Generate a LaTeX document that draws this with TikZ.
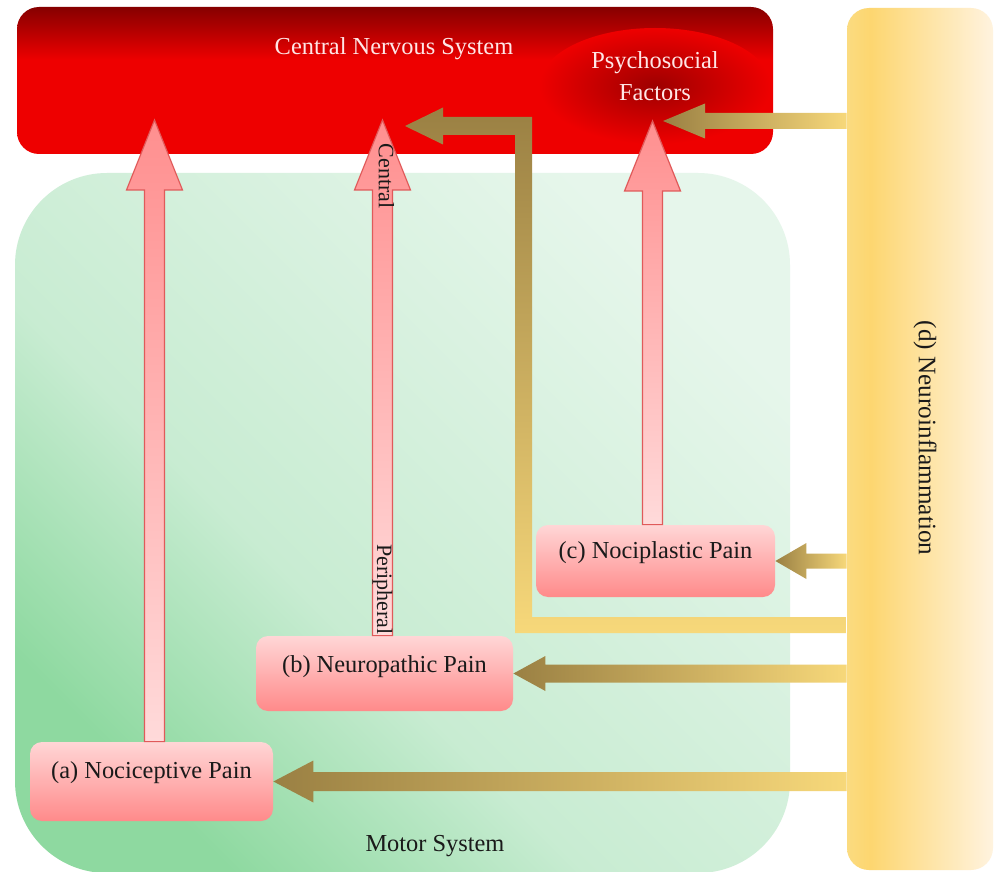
\documentclass[tikz,border=0pt]{standalone}
\usepackage{fontspec}
\setmainfont{Liberation Serif}
\usetikzlibrary{calc,shapes.geometric}
\definecolor{cnsred}{HTML}{EE0000}
\definecolor{cnsdark}{HTML}{860000}
\definecolor{psydark}{HTML}{9E0000}
\definecolor{g1}{HTML}{8ED9A0}
\definecolor{g2}{HTML}{C8ECD2}
\definecolor{g3}{HTML}{E6F6EB}
\definecolor{ylw0}{HTML}{FBDB80}
\definecolor{ylw1}{HTML}{FDD670}
\definecolor{ylw2}{HTML}{FFF3DF}
\definecolor{pinktop}{HTML}{FFD6D6}
\definecolor{pinkbot}{HTML}{FF8A8A}
\definecolor{apinktop}{HTML}{FF8F8F}
\definecolor{apinkbot}{HTML}{FFDADA}
\definecolor{aedge}{HTML}{E05A5A}
\definecolor{gold}{HTML}{F7D87A}
\definecolor{olive}{HTML}{9A8043}
\definecolor{cnstext}{HTML}{FFE6E6}
\definecolor{inktext}{HTML}{1A1A1A}
\pgfdeclareverticalshading{cnsshade}{100bp}{color(0bp)=(cnsred); color(57bp)=(cnsred); color(75bp)=(cnsdark); color(100bp)=(cnsdark)}
\pgfdeclareverticalshading{greenshade}{100bp}{color(0bp)=(g1); color(25bp)=(g1); color(42bp)=(g2); color(75bp)=(g3); color(100bp)=(g3)}
\pgfdeclarehorizontalshading{ylwshade}{100bp}{color(0bp)=(ylw0); color(25bp)=(ylw0); color(33bp)=(ylw1); color(75bp)=(ylw2); color(100bp)=(ylw2)}
\tikzset{
  bigfont/.style={font=\fontsize{12.2}{16}\selectfont},
  painbox/.style={rectangle, rounded corners=6pt, inner sep=0pt, top color=pinktop, bottom color=pinkbot, draw=none},
  painlabel/.style={bigfont, text=inktext, inner sep=0pt},
  pinkarrow/.style={top color=apinktop, bottom color=apinkbot, draw=aedge, line width=0.6pt, line join=miter},
  goldarrow/.style={left color=olive, right color=gold},
  lgold/.style={top color=olive, bottom color=gold},
  sidetext/.style={font=\fontsize{11}{13}\selectfont, text=inktext, rotate=-90, inner sep=0pt}
}
\newcommand\pinkup[2]{%
  \path[pinkarrow] ($(#1)+(-10,0)$) -- ($(#2)+(-10,70)$) -- ($(#2)+(-28,70)$) -- (#2) -- ($(#2)+(28,70)$) -- ($(#2)+(10,70)$) -- ($(#1)+(10,0)$) -- cycle;}
\newcommand\goldleft[5]{%
  \path[goldarrow] ($(#1)+(0,-#3)$) -- ($(#2)+(#5,-#3)$) -- ($(#2)+(#5,-#4)$) -- (#2) -- ($(#2)+(#5,#4)$) -- ($(#2)+(#5,#3)$) -- ($(#1)+(0,#3)$) -- cycle;}
\begin{document}
\begin{tikzpicture}[x=0.5pt,y=-0.5pt]
\useasboundingbox (0,0) rectangle (997,872);
\fill[white] (0,0) rectangle (997,872);
% green motor system region
\node[rectangle, rounded corners=46pt, inner sep=0pt, minimum width=387.5pt, minimum height=350pt, shading=greenshade, shading angle=-45, draw=none] (motor) at (402.5,523) {};
\node[text=inktext, bigfont] (motortxt) at (435,846) {Motor System};
% CNS box
\node[rectangle, rounded corners=11pt, inner sep=0pt, minimum width=378pt, minimum height=73.5pt, shading=cnsshade, draw=none] (cns) at (395,80.5) {};
\node[ellipse, inner sep=0pt, minimum width=116pt, minimum height=58pt, inner color=psydark, outer color=cnsred, draw=none] (psy) at (655,86) {};
\node[bigfont, text=cnstext] (cnstxt) at (394,49) {Central Nervous System};
\node[bigfont, text=cnstext, align=center] (psytxt) at (655,76) {Psychosocial\\Factors};
% neuroinflammation box
\node[rectangle, rounded corners=11pt, inner sep=0pt, minimum width=73pt, minimum height=431pt, shading=ylwshade, draw=none] (dbox) at (920,439) {};
\node[font=\fontsize{12.6}{15}\selectfont, text=inktext, rotate=-90] (dtxt) at (925,438) {(d) Neuroinflammation};
% pain boxes
\node[painbox, minimum width=121.5pt, minimum height=39.5pt] (pa) at (151.5,781.5) {};
\node[painbox, minimum width=128.5pt, minimum height=37.5pt] (pb) at (384.5,673.5) {};
\node[painbox, minimum width=119.5pt, minimum height=36pt] (pc) at (655.5,561) {};
\node[painlabel] (la) at ($(pa.center)+(0,-9)$) {(a) Nociceptive Pain};
\node[painlabel] (lb) at ($(pb.center)+(0,-7)$) {(b) Neuropathic Pain};
\node[painlabel] (lc) at ($(pc.center)+(0,-8)$) {(c) Nociplastic Pain};
% pink ascending arrows
\coordinate (ba) at ($(pa.north)+(3,0)$);
\coordinate (bb) at ($(pb.north)+(-2,0)$);
\coordinate (bc) at ($(pc.north)+(-3,0)$);
\coordinate (ta) at (ba |- 0,120);
\coordinate (tb) at (bb |- 0,120);
\coordinate (tc) at (bc |- 0,121);
\pinkup{ba}{ta}
\pinkup{bb}{tb}
\pinkup{bc}{tc}
\node[sidetext] (central) at ($(tb)+(4,56)$) {Central};
\node[sidetext] (periph) at ($(bb)+(0,-46)$) {Peripheral};
% gold arrows from neuroinflammation
\coordinate (tpsy) at (663,121);
\goldleft{dbox.west |- tpsy}{tpsy}{8}{17.5}{42}
\goldleft{dbox.west |- pc.east}{pc.east}{7.5}{18}{31}
\goldleft{dbox.west |- pb.east}{pb.east}{9}{17.5}{32}
\goldleft{dbox.west |- pa.east}{pa.east}{9.5}{21}{40}
% L-shaped arrow to CNS
\coordinate (tcns) at (405,126);
\path[lgold] (dbox.west |- 0,633) -- (515,633) -- (515,135) -- ($(tcns)+(38,9)$) -- ($(tcns)+(38,18.5)$) -- (tcns) -- ($(tcns)+(38,-18.5)$) -- ($(tcns)+(38,-9)$) -- (532,117) -- (532,617) -- (dbox.west |- 0,617) -- cycle;
\end{tikzpicture}
\end{document}
